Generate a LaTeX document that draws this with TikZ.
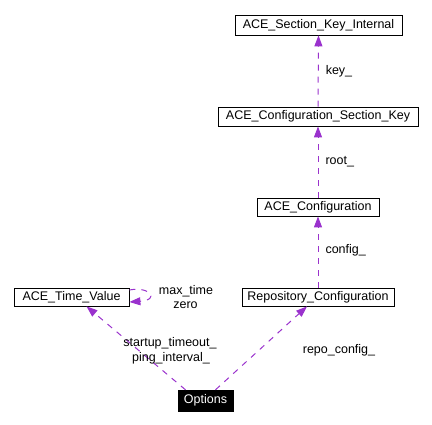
\documentclass[tikz,border=0pt]{standalone}
\usepackage{fontspec}
\setmainfont{Liberation Sans}
\usetikzlibrary{arrows.meta}
\definecolor{edgepurple}{RGB}{154,50,205}
\tikzset{
  classbox/.style={draw=black, fill=white, inner sep=0pt, line width=0.8pt},
  usedby/.style={edgepurple, line width=1pt, dash pattern=on 6pt off 6pt,
    -{Triangle[length=11pt,width=8pt]}},
  edgelabel/.style={inner sep=0pt, text=black}
}
\begin{document}
\begin{tikzpicture}[x=1pt, y=1pt, every node/.style={font=\fontsize{12.5}{14}\selectfont}]
    \useasboundingbox (0,0) rectangle (432,-425);
    % classes
    \node[classbox, minimum width=167pt, minimum height=20pt] (ski) at (318.5,-25) {ACE\_Section\_Key\_Internal};
    \node[classbox, minimum width=200pt, minimum height=19pt] (csk) at (318,-116.5) {ACE\_Configuration\_Section\_Key};
    \node[classbox, minimum width=122pt, minimum height=18pt] (cfg) at (318,-207) {ACE\_Configuration};
    \node[classbox, minimum width=152pt, minimum height=18pt] (repo) at (318,-297) {Repository\_Configuration};
    \node[classbox, minimum width=115pt, minimum height=18pt] (tv) at (71.5,-297) {ACE\_Time\_Value};
    \node[draw=black, fill=black, text=white, inner sep=0pt, minimum width=55pt, minimum height=21pt] (opt) at (205.5,-400.5) {Options};
    % members
    \draw[usedby] (csk.north) -- (ski.south) node[edgelabel, midway, right=7pt] {key\_};
    \draw[usedby] (cfg.north) -- (csk.south) node[edgelabel, midway, right=7pt] {root\_};
    \draw[usedby] (repo.north) -- (cfg.south) node[edgelabel, midway, right=7pt, yshift=2pt] {config\_};
    \draw[usedby] ([xshift=-20pt]opt.north) -- ([xshift=15pt]tv.south);
    \draw[usedby] ([xshift=10pt]opt.north) -- ([xshift=-11pt]repo.south);
    \draw[usedby] ([yshift=7pt]tv.east) .. controls (150,-286) and (160,-300) .. ([yshift=-5pt]tv.east);
    \node[edgelabel] (lmax) at (186,-291) {max\_time};
    \node[edgelabel] (lzero) at (185.5,-305) {zero};
    \node[edgelabel] (lstart) at (170,-343) {startup\_timeout\_};
    \node[edgelabel] (lping) at (171,-358) {ping\_interval\_};
    \node[edgelabel] (lrepo) at (339,-350) {repo\_config\_};
\end{tikzpicture}
\end{document}
